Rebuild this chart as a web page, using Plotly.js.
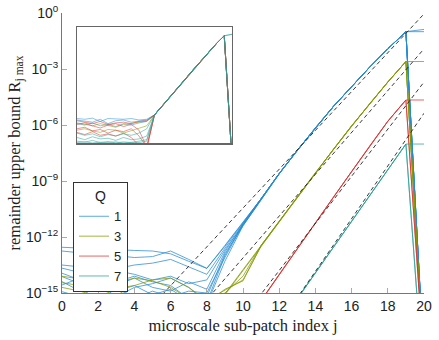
<!DOCTYPE html>
<html><head><meta charset="utf-8">
<script src="https://cdn.plot.ly/plotly-3.0.1.min.js"></script>
<style>html,body{margin:0;padding:0;background:#fff}#chart{width:439px;height:340px}</style>
</head><body><div id="chart"></div>
<script>
// microscale sub-patch index
const j = [0,1,2,3,4,5,6,7,8,9,10,11,12,13,14,15,16,17,18,19,20];

// log10 of remainder bound, one row per realization
const blueQ1 = [
 [-12.55,-12.6,-12.65,-12.7,-12.72,-12.75,-12.9,-13.3,-13.68,-12.45,-11.2,-9.95,-8.6,-7.35,-6.15,-5.0,-3.95,-2.9,-1.92,-1.0,-0.88],
 [-12.75,-12.85,-12.95,-13.0,-13.1,-13.05,-12.75,-13.2,-13.68,-12.5,-11.25,-9.95,-8.6,-7.35,-6.15,-5.0,-3.95,-2.9,-1.92,-1.0,-1.0],
 [-13.5,-13.6,-13.55,-13.7,-13.5,-13.4,-13.2,-13.6,-14.0,-12.6,-11.3,-9.95,-8.6,-7.35,-6.15,-5.0,-3.95,-2.9,-1.92,-1.0,-18.7],
 [-13.67,-13.9,-14.2,-13.8,-14.0,-14.3,-14.1,-14.5,-14.3,-12.7,-11.35,-10.0,-8.62,-7.35,-6.15,-5.0,-3.95,-2.9,-1.92,-1.0,-18.7],
 [-13.94,-14.3,-14.0,-14.6,-14.2,-14.7,-14.9,-14.4,-14.8,-12.8,-11.3,-9.95,-8.6,-7.35,-6.15,-5.0,-3.95,-2.9,-1.92,-1.0,-18.7],
 [-14.12,-14.5,-14.8,-14.4,-14.1,-14.4,-14.6,-15.3,-15.2,-12.9,-11.4,-10.0,-8.62,-7.36,-6.15,-5.0,-3.95,-2.9,-1.92,-1.0,-18.7],
 [-14.39,-14.9,-14.5,-15.2,-14.7,-14.5,-14.2,-14.7,-15.5,-13.0,-11.3,-9.95,-8.6,-7.35,-6.15,-5.0,-3.95,-2.9,-1.92,-1.0,-18.7],
 [-14.57,-14.2,-14.9,-14.6,-15.3,-14.9,-15.2,-14.9,-15.0,-13.1,-11.35,-9.97,-8.6,-7.35,-6.15,-5.0,-3.95,-2.9,-1.92,-1.0,-18.7],
 [-14.93,-15.2,-14.6,-14.9,-14.6,-15.1,-14.8,-15.4,-15.6,-13.3,-11.4,-10.0,-8.62,-7.35,-6.15,-5.0,-3.95,-2.9,-1.92,-1.0,-18.7]
];
const oliveQ3 = [
 [-14.1,-14.25,-14.7,-14.45,-14.2,-14.35,-14.7,-15.3,-15.5,-14.8,-14.35,-12.45,-11.15,-9.85,-8.55,-7.3,-6.05,-4.85,-3.7,-2.6,-2.6],
 [-14.45,-14.6,-14.4,-14.75,-14.6,-14.3,-14.2,-14.7,-15.4,-14.84,-14.3,-12.5,-11.15,-9.85,-8.55,-7.3,-6.05,-4.85,-3.7,-2.6,-18.9],
 [-14.7,-14.9,-15.2,-14.8,-15.4,-15.1,-15.6,-15.3,-15.5,-15.0,-14.1,-12.45,-11.15,-9.85,-8.55,-7.3,-6.05,-4.85,-3.7,-2.6,-18.9],
 [-15.6,-15.8,-15.5,-15.9,-15.7,-15.6,-15.8,-15.9,-15.7,-15.05,-13.75,-12.45,-11.15,-9.85,-8.55,-7.3,-6.05,-4.85,-3.7,-2.6,-18.9],
 [-15.8,-15.6,-15.9,-15.7,-15.8,-15.9,-15.7,-15.8,-15.6,-15.1,-13.8,-12.5,-11.17,-9.86,-8.56,-7.3,-6.05,-4.85,-3.7,-2.6,-18.9]
];
const redQ5 = [
 [-16.5,-16.6,-16.4,-16.7,-16.5,-16.6,-16.8,-16.5,-16.7,-16.6,-16.5,-15.4,-14.0,-12.62,-11.24,-9.86,-8.5,-7.12,-5.8,-4.66,-4.66],
 [-16.7,-16.5,-16.6,-16.4,-16.8,-16.5,-16.6,-16.7,-16.5,-16.8,-16.6,-15.4,-14.0,-12.62,-11.24,-9.86,-8.5,-7.12,-5.8,-4.66,-18.8],
 [-16.6,-16.8,-16.7,-16.6,-16.5,-16.7,-16.5,-16.6,-16.8,-16.5,-16.7,-15.42,-14.02,-12.63,-11.25,-9.87,-8.5,-7.12,-5.8,-4.66,-18.8]
];
const tealQ7 = [
 [-17.2,-17.4,-17.3,-17.1,-17.5,-17.2,-17.3,-17.4,-17.2,-17.3,-17.1,-17.0,-16.6,-15.3,-13.92,-12.54,-11.17,-9.79,-8.41,-7.02,-7.02],
 [-17.4,-17.2,-17.5,-17.3,-17.2,-17.4,-17.1,-17.3,-17.5,-17.2,-17.3,-17.1,-16.7,-15.3,-13.92,-12.54,-11.17,-9.79,-8.41,-7.02,-20.3],
 [-17.3,-17.5,-17.2,-17.4,-17.3,-17.1,-17.4,-17.2,-17.3,-17.4,-17.2,-17.2,-16.6,-15.32,-13.93,-12.55,-11.18,-9.8,-8.41,-7.02,-20.3]
];

// dashed reference lines: log10 value at j = 0 and j = 20
const dashJ = [0, 20];
const dashQ1 = [-20.85, -0.05];
const dashQ3 = [-24.32, -1.92];
const dashQ5 = [-28.94, -3.70];
const dashQ7 = [-33.61, -5.37];

// inset: log10 values, one row per realization
const insetBlue = [
 [-12.6,-12.7,-12.55,-13.0,-12.6,-12.65,-12.7,-12.6,-12.8,-12.7,-12.1,-10.9,-9.65,-8.4,-7.15,-5.9,-4.65,-3.45,-2.3,-1.24,-1.04],
 [-12.8,-12.9,-13.1,-12.7,-13.3,-12.9,-12.8,-13.1,-12.9,-12.8,-12.1,-10.9,-9.65,-8.4,-7.15,-5.9,-4.65,-3.45,-2.3,-1.24,-18.2],
 [-13.3,-13.5,-13.2,-13.6,-13.4,-13.7,-13.3,-13.5,-13.2,-13.0,-12.1,-10.9,-9.65,-8.4,-7.15,-5.9,-4.65,-3.45,-2.3,-1.24,-18.2]
];
const insetRed = [
 [-12.9,-13.1,-13.3,-13.0,-13.4,-13.2,-13.1,-13.3,-13.0,-12.9,-12.1,-10.9,-9.65,-8.4,-7.15,-5.9,-4.65,-3.45,-2.3,-1.24,-18.2],
 [-13.4,-13.2,-13.6,-13.9,-13.5,-13.3,-13.7,-13.4,-14.2,-16.5,-12.1,-10.9,-9.65,-8.4,-7.15,-5.9,-4.65,-3.45,-2.3,-1.24,-18.2],
 [-14.0,-13.8,-14.3,-14.1,-14.6,-14.2,-14.4,-14.0,-15.0,-16.5,-12.1,-10.9,-9.65,-8.4,-7.15,-5.9,-4.65,-3.45,-2.3,-1.24,-18.2],
 [-14.5,-14.8,-14.4,-14.9,-14.7,-15.0,-14.6,-15.2,-16.3,-16.8,-12.1,-10.9,-9.65,-8.4,-7.15,-5.9,-4.65,-3.45,-2.3,-1.24,-18.2]
];
const insetOlive = [
 [-13.2,-13.4,-13.6,-13.3,-13.5,-13.8,-13.4,-13.2,-13.1,-12.95,-12.1,-10.9,-9.65,-8.4,-7.15,-5.9,-4.65,-3.45,-2.3,-1.24,-18.2],
 [-14.2,-14.0,-14.3,-14.5,-14.1,-14.2,-14.6,-14.3,-14.0,-13.6,-12.1,-10.9,-9.65,-8.4,-7.15,-5.9,-4.65,-3.45,-2.3,-1.24,-18.2]
];
const insetTeal = [
 [-14.6,-14.9,-14.7,-15.1,-14.8,-15.0,-14.7,-14.9,-14.6,-14.0,-12.1,-10.9,-9.65,-8.4,-7.15,-5.9,-4.65,-3.45,-2.3,-1.24,-1.04],
 [-15.2,-15.5,-15.1,-15.4,-15.3,-15.6,-15.2,-15.5,-15.4,-15.0,-12.1,-10.9,-9.65,-8.4,-7.15,-5.9,-4.65,-3.45,-2.3,-1.24,-18.2],
 [-15.7,-15.85,-15.6,-15.9,-15.75,-15.95,-15.8,-15.9,-15.7,-15.5,-12.1,-10.9,-9.65,-8.4,-7.15,-5.9,-4.65,-3.45,-2.3,-1.24,-18.2],
 [-15.9,-15.8,-15.95,-15.85,-15.9,-15.8,-15.95,-15.85,-15.9,-15.7,-12.1,-10.9,-9.65,-8.4,-7.15,-5.9,-4.65,-3.45,-2.3,-1.24,-18.2]
];

const qNames = ['1','3','5','7'];
const qColors = ['#268bd2','#859900','#dc322f','#2aa198'];
const xTicks = [0,2,4,6,8,10,12,14,16,18,20];
const yTickVals = [1e-15,1e-12,1e-9,1e-6,1e-3,1];
const yTickText = ['10<sup>−15</sup>','10<sup>−12</sup>','10<sup>−9</sup>','10<sup>−6</sup>','10<sup>−3</sup>','10<sup>0</sup>'];

const pow10 = a => a.map(v => Math.pow(10, v));
const traces = [];

// inset traces
[insetBlue, insetOlive, insetRed, insetTeal].forEach((grp, gi) => {
  grp.forEach(row => traces.push({
    x: j, y: pow10(row), xaxis: 'x2', yaxis: 'y2', mode: 'lines',
    line: {color: qColors[gi], width: 0.8}, opacity: 0.65, showlegend: false, hoverinfo: 'skip'
  }));
});

// main traces
[blueQ1, oliveQ3, redQ5, tealQ7].forEach((grp, gi) => {
  grp.forEach((row, ri) => traces.push({
    x: j, y: pow10(row), mode: 'lines', name: qNames[gi], legendgroup: qNames[gi],
    showlegend: ri === 0, line: {color: qColors[gi], width: 1}, opacity: 0.75, hoverinfo: 'skip'
  }));
});

[dashQ1, dashQ3, dashQ5, dashQ7].forEach(d => traces.push({
  x: dashJ, y: pow10(d), mode: 'lines', showlegend: false, hoverinfo: 'skip',
  line: {color: '#222', width: 0.9, dash: '4px,3px'}
}));

const serif = 'Liberation Serif, DejaVu Serif, serif';
const sans = 'Liberation Sans, Arial, sans-serif';

const layout = {
  width: 439, height: 340,
  margin: {l: 62, r: 15, t: 13, b: 47},
  paper_bgcolor: '#fff', plot_bgcolor: '#fff',
  showlegend: true,
  xaxis: {
    range: [0, 20], tickvals: xTicks, ticks: 'inside', ticklen: 5, tickcolor: '#aaa',
    showline: true, linecolor: '#777', linewidth: 1, showgrid: false, zeroline: false,
    tickfont: {family: sans, size: 14, color: '#222'},
    title: {text: 'microscale sub-patch index j', font: {family: serif, size: 16.5, color: '#222'}, standoff: 6}
  },
  yaxis: {
    type: 'log', range: [-15, 0], tickvals: yTickVals, ticktext: yTickText,
    ticks: 'inside', ticklen: 5, tickcolor: '#aaa',
    showline: true, linecolor: '#777', linewidth: 1, showgrid: false, zeroline: false,
    tickfont: {family: sans, size: 14, color: '#222'},
    title: {text: 'remainder upper bound R<sub>j max</sub>', font: {family: serif, size: 16.5, color: '#222'}, standoff: 0}
  },
  xaxis2: {
    domain: [0.0414, 0.4696], anchor: 'y2', range: [0, 20],
    showline: true, mirror: true, linecolor: '#666', linewidth: 1.2,
    showticklabels: false, ticks: '', showgrid: false, zeroline: false
  },
  yaxis2: {
    domain: [0.5346, 0.951], anchor: 'x2', type: 'log', range: [-16, 0],
    showline: true, mirror: true, linecolor: '#666', linewidth: 1.2,
    showticklabels: false, ticks: '', showgrid: false, zeroline: false
  },
  legend: {
    x: 0.0304, y: 0.396, xanchor: 'left', yanchor: 'top',
    bordercolor: '#333', borderwidth: 1, bgcolor: '#fff',
    font: {family: sans, size: 13, color: '#222'},
    title: {text: 'Q', side: 'top center', font: {family: sans, size: 14, color: '#222'}},
    itemwidth: 30, tracegroupgap: 0
  }
};

Plotly.newPlot('chart', traces, layout, {displayModeBar: false, staticPlot: true});
</script>
</body></html>
